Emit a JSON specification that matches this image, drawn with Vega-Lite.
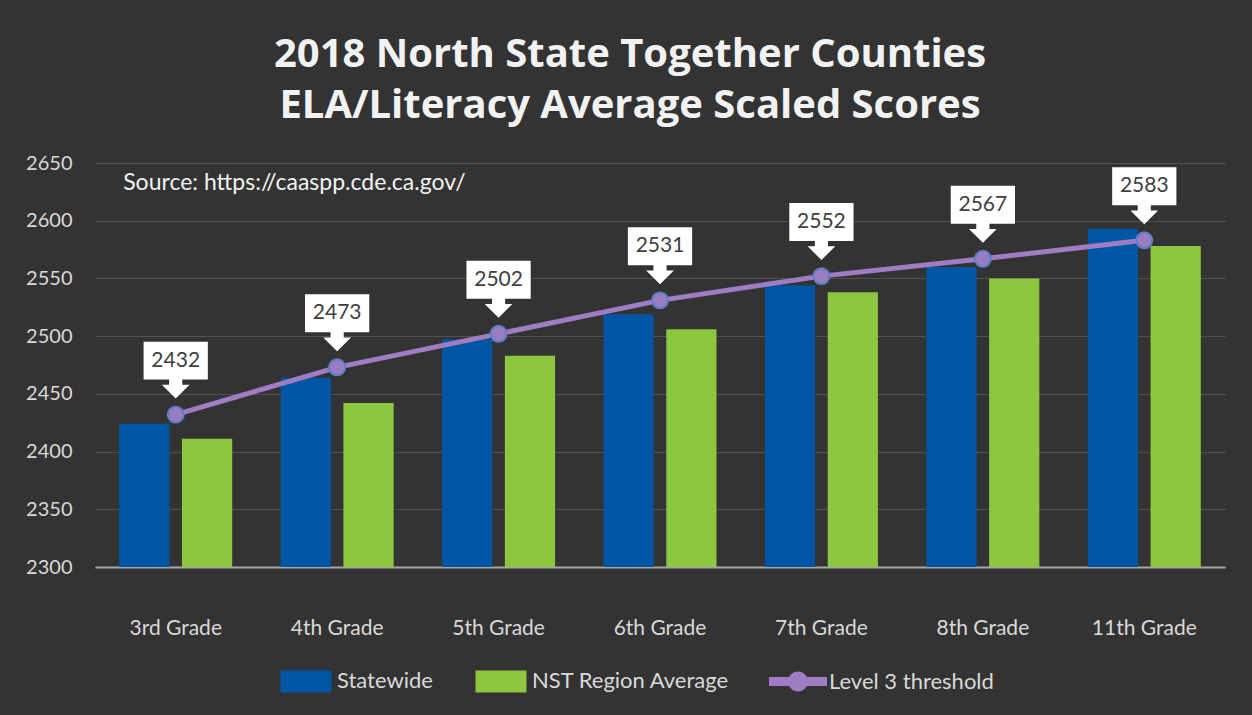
{
  "$schema": "https://vega.github.io/schema/vega-lite/v6.json",
  "width": 1130,
  "height": 404,
  "autosize": {"type": "none"},
  "padding": {"left": 95, "top": 163, "right": 27, "bottom": 148},
  "background": "#333333",
  "title": {
    "text": ["2018 North State Together Counties", "ELA/Literacy Average Scaled Scores"],
    "font": "Open Sans",
    "fontSize": 40,
    "fontWeight": "bold",
    "color": "#f2f2f2",
    "lineHeight": 51,
    "anchor": "middle",
    "frame": "group",
    "dx": -30,
    "offset": 27
  },
  "datasets": {
    "bars": [
      {"grade": "3rd Grade", "series": "Statewide", "value": 2424},
      {"grade": "3rd Grade", "series": "NST Region Average", "value": 2411},
      {"grade": "4th Grade", "series": "Statewide", "value": 2464},
      {"grade": "4th Grade", "series": "NST Region Average", "value": 2442},
      {"grade": "5th Grade", "series": "Statewide", "value": 2497},
      {"grade": "5th Grade", "series": "NST Region Average", "value": 2483},
      {"grade": "6th Grade", "series": "Statewide", "value": 2519},
      {"grade": "6th Grade", "series": "NST Region Average", "value": 2506},
      {"grade": "7th Grade", "series": "Statewide", "value": 2544},
      {"grade": "7th Grade", "series": "NST Region Average", "value": 2538},
      {"grade": "8th Grade", "series": "Statewide", "value": 2560},
      {"grade": "8th Grade", "series": "NST Region Average", "value": 2550},
      {"grade": "11th Grade", "series": "Statewide", "value": 2593},
      {"grade": "11th Grade", "series": "NST Region Average", "value": 2578}
    ],
    "level": [
      {"grade": "3rd Grade", "level": 2432},
      {"grade": "4th Grade", "level": 2473},
      {"grade": "5th Grade", "level": 2502},
      {"grade": "6th Grade", "level": 2531},
      {"grade": "7th Grade", "level": 2552},
      {"grade": "8th Grade", "level": 2567},
      {"grade": "11th Grade", "level": 2583}
    ]
  },
  "encoding": {
    "x": {
      "field": "grade",
      "type": "nominal",
      "sort": ["3rd Grade", "4th Grade", "5th Grade", "6th Grade", "7th Grade", "8th Grade", "11th Grade"],
      "scale": {"paddingInner": 0.3, "paddingOuter": 0.15},
      "axis": {
        "title": null,
        "labelAngle": 0,
        "labelFont": "Lato",
        "labelFontSize": 21,
        "labelColor": "#d9d9d9",
        "labelPadding": 61,
        "labelBaseline": "middle",
        "ticks": false,
        "domainColor": "#a6a6a6",
        "domainWidth": 2,
        "grid": false
      }
    }
  },
  "layer": [
    {
      "data": {"name": "bars"},
      "mark": {"type": "bar", "clip": true},
      "encoding": {
        "xOffset": {
          "field": "series",
          "sort": ["Statewide", "NST Region Average"],
          "scale": {"paddingInner": 0.2, "paddingOuter": 0}
        },
        "y": {
          "field": "value",
          "type": "quantitative",
          "scale": {"domain": [2300, 2650], "nice": false, "zero": false},
          "axis": {
            "title": null,
            "values": [2300, 2350, 2400, 2450, 2500, 2550, 2600, 2650],
            "format": "d",
            "labelFont": "Lato",
            "labelFontSize": 20,
            "labelColor": "#d9d9d9",
            "labelPadding": 23,
            "ticks": false,
            "domain": false,
            "grid": true,
            "gridColor": "#525252",
            "gridWidth": 1
          }
        },
        "y2": {"datum": 2300},
        "color": {
          "field": "series",
          "type": "nominal",
          "scale": {
            "domain": ["Statewide", "NST Region Average", "Level 3 threshold"],
            "range": ["#0056a5", "#8dc63f", "#a07cc4"]
          },
          "legend": {
            "orient": "none",
            "legendX": 181,
            "legendY": 488,
            "direction": "horizontal",
            "title": null,
            "symbolSize": 3600,
            "symbolOpacity": 1,
            "symbolStrokeWidth": 0,
            "labelFont": "Lato",
            "labelFontSize": 22,
            "labelColor": "#d9d9d9",
            "labelOffset": 1,
            "columnPadding": 38,
            "labelLimit": 300
          }
        }
      }
    },
    {
      "data": {"name": "level"},
      "mark": {"type": "line", "color": "#a07cc4", "strokeWidth": 5},
      "encoding": {
        "y": {"field": "level", "type": "quantitative"}
      }
    },
    {
      "data": {"name": "level"},
      "mark": {
        "type": "point",
        "filled": true,
        "color": "#ffffff",
        "opacity": 1,
        "size": 21316,
        "shape": "M-0.44,-1L0.44,-1L0.44,-0.48L0.09,-0.48L0.09,-0.41L0.19,-0.41L0,-0.22L-0.19,-0.41L-0.09,-0.41L-0.09,-0.48L-0.44,-0.48Z"
      },
      "encoding": {
        "y": {"field": "level", "type": "quantitative"}
      }
    },
    {
      "data": {"name": "level"},
      "mark": {
        "type": "point",
        "filled": true,
        "shape": "circle",
        "size": 254,
        "fill": "#9b7cc3",
        "stroke": "#5b7fc8",
        "strokeWidth": 2,
        "opacity": 1
      },
      "encoding": {
        "y": {"field": "level", "type": "quantitative"}
      }
    },
    {
      "data": {"name": "level"},
      "mark": {
        "type": "text",
        "font": "Lato",
        "fontSize": 21,
        "color": "#404040",
        "baseline": "middle",
        "align": "center",
        "dy": -54
      },
      "encoding": {
        "y": {"field": "level", "type": "quantitative"},
        "text": {"field": "level", "type": "quantitative", "format": "d"}
      }
    },
    {
      "data": {"values": [{"label": "Source:  https://caaspp.cde.ca.gov/", "grade": "3rd Grade", "level": 2633}]},
      "mark": {
        "type": "text",
        "font": "Lato",
        "fontSize": 23,
        "color": "#f2f2f2",
        "align": "left",
        "baseline": "middle",
        "dx": 4
      },
      "encoding": {
        "x": {"field": "grade", "type": "nominal", "bandPosition": 0, "sort": ["3rd Grade", "4th Grade", "5th Grade", "6th Grade", "7th Grade", "8th Grade", "11th Grade"]},
        "y": {"field": "level", "type": "quantitative"},
        "text": {"field": "label"}
      }
    },
    {
      "data": {"name": "bars"},
      "mark": {"type": "point", "filled": true, "opacity": 0},
      "encoding": {
        "y": {"field": "value", "type": "quantitative"},
        "color": {
          "field": "series",
          "type": "nominal",
          "scale": {
            "domain": ["Statewide", "NST Region Average", "Level 3 threshold"],
            "range": ["#0056a5", "#8dc63f", "#a07cc4"]
          },
          "legend": {
            "orient": "none",
            "legendX": 181,
            "legendY": 488,
            "direction": "horizontal",
            "title": null,
            "symbolSize": 3600,
            "symbolOpacity": 1,
            "symbolStrokeWidth": 0,
            "labelFont": "Lato",
            "labelFontSize": 22,
            "labelColor": "#d9d9d9",
            "labelOffset": 1,
            "columnPadding": 38,
            "labelLimit": 300
          }
        },
        "shape": {
          "field": "series",
          "type": "nominal",
          "scale": {
            "domain": ["Statewide", "NST Region Average", "Level 3 threshold"],
            "range": [
              "M-0.85,-0.367L0.85,-0.367L0.85,0.367L-0.85,0.367Z",
              "M-0.85,-0.367L0.85,-0.367L0.85,0.367L-0.85,0.367Z",
              "M-0.967,-0.15L0.967,-0.15L0.967,0.15L-0.967,0.15ZM0.333,0A0.333,0.333 0 1,1 -0.333,0A0.333,0.333 0 1,1 0.333,0Z"
            ]
          },
          "legend": {
            "orient": "none",
            "legendX": 181,
            "legendY": 488,
            "direction": "horizontal",
            "title": null,
            "symbolSize": 3600,
            "symbolOpacity": 1,
            "symbolStrokeWidth": 0,
            "labelFont": "Lato",
            "labelFontSize": 22,
            "labelColor": "#d9d9d9",
            "labelOffset": 1,
            "columnPadding": 38,
            "labelLimit": 300
          }
        }
      }
    }
  ],
  "config": {
    "view": {"stroke": null}
  }
}
